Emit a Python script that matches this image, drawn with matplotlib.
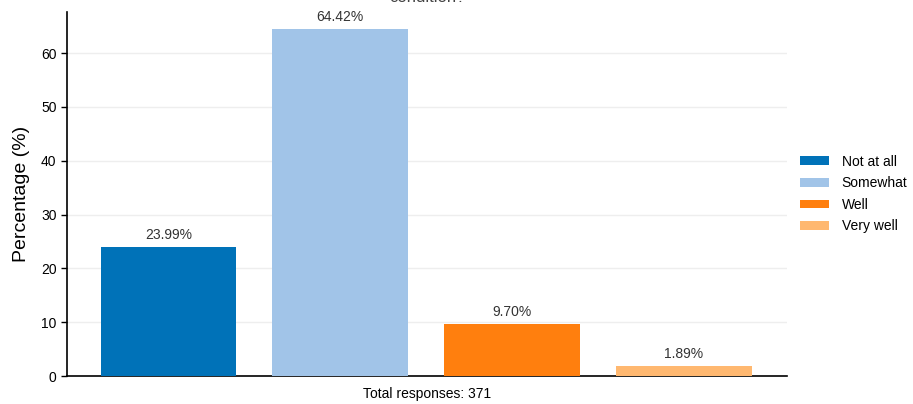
import matplotlib
matplotlib.use("Agg")
import matplotlib.pyplot as plt
from matplotlib.patches import Patch

plt.rcParams['font.family'] = ['Liberation Sans', 'DejaVu Sans']

categories = ["Not at all", "Somewhat", "Well", "Very well"]
values = [23.99, 64.42, 9.70, 1.89]
colors = ["#0072b8", "#a1c4e8", "#ff7f0e", "#ffb870"]
total_responses = 371

fig = plt.figure(figsize=(9.13, 4.04), dpi=100)
ax = fig.add_axes([0.0734, 0.069, 0.7886, 0.901])

x = list(range(len(categories)))
bars = ax.bar(x, values, width=0.79, color=colors, zorder=3)
for xi, v in zip(x, values):
    ax.text(xi, v + 1.0, f"{v:.2f}%", ha='center', va='bottom', fontsize=10, color='#333333')

ax.set_xlim(-0.59, 3.6)
ax.set_ylim(0, 67.6)
ax.set_yticks([0, 10, 20, 30, 40, 50, 60])
ax.set_xticks([])
ax.tick_params(axis='y', labelsize=10, length=4, width=1, colors='black')
ax.yaxis.grid(True, color='#eeeeee', linewidth=1, zorder=0)
ax.set_axisbelow(True)
for s in ['top', 'right']:
    ax.spines[s].set_visible(False)
ax.spines['left'].set_linewidth(1.2)
ax.spines['bottom'].set_linewidth(1.2)
ax.set_ylabel("Percentage (%)", fontsize=14, labelpad=8)
ax.set_xlabel(f"Total responses: {total_responses}", fontsize=10, labelpad=8)

handles = [Patch(facecolor=c, edgecolor='none') for c in colors]
fig.legend(handles, categories, loc='upper left', bbox_to_anchor=(0.864, 0.645),
           frameon=False, fontsize=10, handlelength=2.1, handleheight=0.6,
           labelspacing=0.55, handletextpad=0.9, borderpad=0.3)

fig.text(427 / 913, 1 - 1.5 / 404, "condition?", ha='center', va='baseline', fontsize=12, color='#444444')

fig.savefig("out.png", dpi=100)
